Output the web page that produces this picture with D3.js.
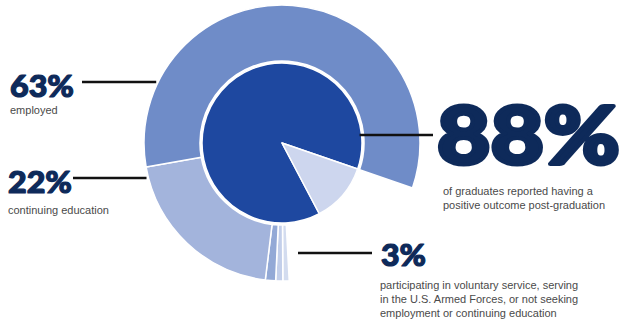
<!DOCTYPE html>
<html>
<head>
<meta charset="utf-8">
<script src="https://cdn.jsdelivr.net/npm/d3@7"></script>
<style>
  html, body { margin: 0; padding: 0; background: #fff; }
  svg { display: block; }
</style>
</head>
<body>
<svg id="chart" width="627" height="328"></svg>
<script>
// Outcome breakdown (percent of graduates)
const ringCategories = ["not seeking employment or education", "U.S. Armed Forces", "voluntary service", "continuing education", "employed"];
const ringValues     = [0.8, 0.9, 1.3, 22, 63];
const ringColors     = ["#d3dcef", "#c3cfea", "#93a9d6", "#a3b4dc", "#6f8cc8"];

const pieCategories = ["positive outcome", "other"];
const pieValues     = [88, 12];
const pieColors     = ["#1e48a0", "#cdd6ee"];

const callouts = [
  { value: "63%", lines: ["employed"] },
  { value: "22%", lines: ["continuing education"] },
  { value: "88%", lines: ["of graduates reported having a", "positive outcome post-graduation"] },
  { value: "3%",  lines: ["participating in voluntary service, serving", "in the U.S. Armed Forces, or not seeking", "employment or continuing education"] }
];

const svg = d3.select("#chart");
const cx = 282, cy = 143;
const rPie = 80, rIn = 82, rOut = 138;
const deg = Math.PI / 180;

const g = svg.append("g").attr("transform", `translate(${cx},${cy})`);

// Outer ring: positive outcomes spread over the ring's arc span
const ringEnd = 109 * deg;
const ringPie = d3.pie().sort(null).startAngle(177 * deg).endAngle(ringEnd + 2 * Math.PI);
const ringArc = d3.arc().innerRadius(rIn).outerRadius(rOut);
g.selectAll("path.ring")
  .data(ringPie(ringValues))
  .join("path")
  .attr("class", "ring")
  .attr("d", ringArc)
  .attr("fill", (d, i) => ringColors[i])
  .attr("stroke", "#fff")
  .attr("stroke-width", 1.5)
  .attr("stroke-linejoin", "round");

// Inner pie: positive vs other outcomes
const innerPie = d3.pie().sort(null)
  .startAngle(ringEnd - 0.88 * 2 * Math.PI)
  .endAngle(ringEnd + 0.12 * 2 * Math.PI);
const innerArc = d3.arc().innerRadius(0).outerRadius(rPie);
g.selectAll("path.inner")
  .data(innerPie(pieValues))
  .join("path")
  .attr("class", "inner")
  .attr("d", innerArc)
  .attr("fill", (d, i) => pieColors[i])
  .attr("stroke", "#fff")
  .attr("stroke-width", 1.5)
  .attr("stroke-linejoin", "round");

// Callouts
const navy = "#0e2a5a";
const bigFont = "Lato, 'Open Sans', sans-serif";
const bodyFont = "'Liberation Sans', Arial, sans-serif";

// x where a horizontal line at height y meets the ring's outer edge (left side)
const ringLeftX = y => cx - Math.sqrt(rOut * rOut - (y - cy) * (y - cy));
const pieRightX = y => cx + Math.sqrt(rPie * rPie - (y - cy) * (y - cy));

const layout = [
  { x: 10, base: 97,  size: 31, weight: 1.2, width: 64,  sub: { x: 10, y: 114 }, line: { y: 82,  x1: 82,  x2: ringLeftX(82) - 2 } },
  { x: 8,  base: 193, size: 31, weight: 1.2, width: 64,  sub: { x: 8,  y: 214 }, line: { y: 178, x1: 73,  x2: ringLeftX(178) - 2 } },
  { x: 437, base: 164, size: 80, weight: 4,   width: 183, sub: { x: 443, y: 195 }, line: { y: 135, x1: pieRightX(135) - 2, x2: 433 } },
  { x: 381, base: 266, size: 30, weight: 1.2, width: 45,  sub: { x: 380, y: 289 }, line: { y: 253, x1: 298, x2: 372 } }
];

callouts.forEach((c, i) => {
  const L = layout[i];
  svg.append("line")
    .attr("x1", L.line.x1).attr("x2", L.line.x2)
    .attr("y1", L.line.y).attr("y2", L.line.y)
    .attr("stroke", "#111").attr("stroke-width", 2.4);
  svg.append("text")
    .attr("x", L.x).attr("y", L.base)
    .attr("font-family", bigFont)
    .attr("font-weight", 900)
    .attr("font-size", L.size)
    .attr("fill", navy)
    .attr("stroke", navy)
    .attr("stroke-width", L.weight)
    .attr("stroke-linejoin", "round")
    .attr("textLength", L.width)
    .attr("lengthAdjust", "spacingAndGlyphs")
    .text(c.value);
  c.lines.forEach((t, j) => {
    svg.append("text")
      .attr("x", L.sub.x).attr("y", L.sub.y + j * 14.2)
      .attr("font-family", bodyFont)
      .attr("font-size", 11)
      .attr("fill", "#4a4a4a")
      .text(t);
  });
});
</script>
</body>
</html>
